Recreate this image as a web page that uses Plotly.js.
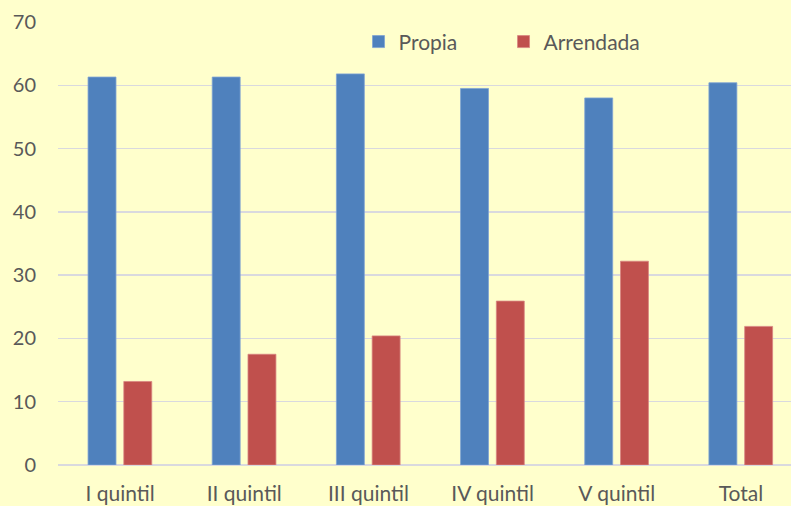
<!DOCTYPE html>
<html>
<head>
<meta charset="utf-8">
<script src="https://cdn.plot.ly/plotly-3.0.1.min.js"></script>
<style>html,body{margin:0;padding:0;background:#FFFFCC;}#chart{width:791px;height:506px;}</style>
</head>
<body>
<div id="chart"></div>
<script>
const categories = ["I quintil", "II quintil", "III quintil", "IV quintil", "V quintil", "Total"];
const propia = [61.3, 61.3, 61.8, 59.5, 58.0, 60.4];
const arrendada = [13.2, 17.5, 20.4, 25.9, 32.2, 21.9];
const yTicks = [0, 10, 20, 30, 40, 50, 60, 70];

const textColor = "#595959";
const fontFam = "Lato, 'Liberation Sans', sans-serif";

const traces = [
  {type: "bar", name: "Propia", x: categories, y: propia,
   marker: {color: "#4F81BD", line: {color: "#7FA3D3", width: 0.8}},
   width: 0.225, offset: -0.258, hoverinfo: "skip"},
  {type: "bar", name: "Arrendada", x: categories, y: arrendada,
   marker: {color: "#C0504D", line: {color: "#D88582", width: 0.8}},
   width: 0.225, offset: 0.03, hoverinfo: "skip"}
];

const layout = {
  width: 791, height: 506,
  paper_bgcolor: "#FFFFCC", plot_bgcolor: "#FFFFCC",
  margin: {l: 58, r: 0, t: 22, b: 41, pad: 0},
  font: {family: fontFam, size: 20, color: textColor},
  barmode: "group",
  showlegend: true,
  legend: {orientation: "h", x: 0.41, xanchor: "left", y: 0.955, yanchor: "middle",
           bgcolor: "rgba(0,0,0,0)", font: {size: 21, color: textColor},
           entrywidth: 100, entrywidthmode: "pixels", itemclick: false},
  xaxis: {type: "category", range: [-0.5, 5.403], showgrid: false, zeroline: false,
          showline: false, ticks: "", tickfont: {size: 21, color: textColor},
          ticklabelstandoff: 14, fixedrange: true},
  yaxis: {range: [0, 70], tickvals: yTicks, ticktext: yTicks.map(String),
          showgrid: true, gridcolor: "#D9D9DE", gridwidth: 1.5,
          zeroline: true, zerolinecolor: "#D9D9DE", zerolinewidth: 1.5,
          showline: false, ticks: "", tickfont: {size: 20, color: textColor},
          ticklabelstandoff: 21, fixedrange: true}
};

Plotly.newPlot("chart", traces, layout, {displayModeBar: false, staticPlot: true});
</script>
</body>
</html>
